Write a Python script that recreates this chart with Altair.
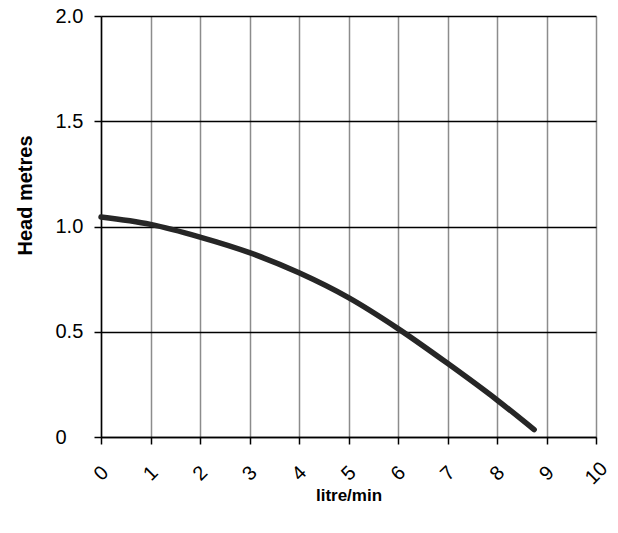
import altair as alt
import pandas as pd

flow = [0, 1, 2, 3, 4, 5, 6, 7, 8, 8.75]
head = [1.045, 1.01, 0.95, 0.876, 0.78, 0.662, 0.515, 0.35, 0.176, 0.035]
x_ticks = [0, 1, 2, 3, 4, 5, 6, 7, 8, 9, 10]
y_ticks = [0, 0.5, 1.0, 1.5, 2.0]

df = pd.DataFrame({"flow": flow, "head": head})

FONT = "Liberation Sans"

chart = alt.Chart(df).mark_line(
    color="#262626", strokeWidth=5.5, interpolate="monotone", strokeCap="round"
).encode(
    x=alt.X("flow:Q", scale=alt.Scale(domain=[0, 10], nice=False, zero=False),
            axis=alt.Axis(values=x_ticks, title="litre/min", labelAngle=315,
                          labelAlign="center", labelBaseline="middle",
                          labelPadding=29, tickSize=7, tickColor="black",
                          tickWidth=1.5, domainColor="black", domainWidth=1.5,
                          gridColor="#8c8c8c", gridWidth=1.5,
                          labelFont=FONT, labelFontSize=20, labelColor="black",
                          titleFont=FONT, titleFontSize=17, titleFontWeight="bold",
                          titleColor="black", titleY=58, titleBaseline="middle")),
    y=alt.Y("head:Q", scale=alt.Scale(domain=[0, 2], nice=False),
            axis=alt.Axis(values=y_ticks, title="Head metres",
                          labelExpr="datum.value == 0 ? '0' : format(datum.value, '.1f')",
                          labelAlign="left", labelPadding=39,
                          tickSize=7, tickColor="black", tickWidth=1.5,
                          domainColor="black", domainWidth=1.5,
                          gridColor="black", gridWidth=1.5,
                          labelFont=FONT, labelFontSize=20, labelColor="black",
                          titleFont=FONT, titleFontSize=20, titleFontWeight="bold",
                          titleColor="black", titleX=-76, titleY=179,
                          titleBaseline="middle", titleAngle=270)),
).properties(
    width=495, height=421,
    autosize=alt.AutoSizeParams(type="none"),
    padding={"left": 93, "top": 8, "right": 14, "bottom": 80},
).configure_view(stroke="black", strokeWidth=1.5).configure(background="white")

chart.save("out.html", embed_options={"renderer": "svg", "actions": False})
